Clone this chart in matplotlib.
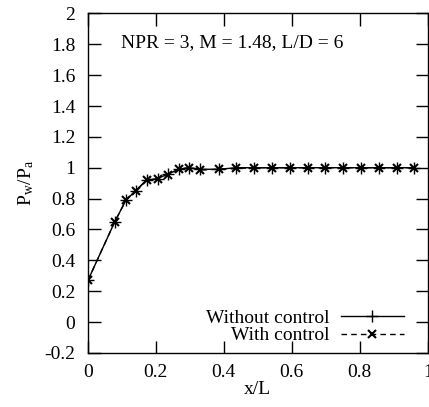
import matplotlib
matplotlib.use("Agg")
import matplotlib.pyplot as plt
from matplotlib.ticker import FuncFormatter

plt.rcParams['font.family'] = ['Liberation Serif', 'DejaVu Serif']
plt.rcParams['mathtext.fontset'] = 'stix'

x_without = [0.0, 0.079, 0.112, 0.140, 0.173, 0.205, 0.237, 0.267, 0.298, 0.331,
             0.385, 0.437, 0.489, 0.542, 0.596, 0.648, 0.699, 0.750, 0.804, 0.856,
             0.909, 0.961]
p_without = [0.27, 0.65, 0.79, 0.85, 0.92, 0.93, 0.96, 0.99, 1.00, 0.99,
             0.99, 1.00, 1.00, 1.00, 1.00, 1.00, 1.00, 1.00, 1.00, 1.00,
             1.00, 1.00]
x_with = x_without
p_with = [0.27, 0.65, 0.79, 0.85, 0.92, 0.93, 0.955, 0.99, 1.00, 0.985,
          0.99, 0.995, 1.00, 1.00, 1.00, 1.00, 1.00, 1.00, 1.00, 1.00,
          1.00, 1.00]

fig = plt.figure(figsize=(4.29, 4.07), dpi=100)
ax = fig.add_axes([0.205, 0.133, 0.792, 0.834])

ax.plot(x_without, p_without, color='black', lw=1.0, marker='+', ms=9, mew=1.0,
        label='Without control')
ax.plot(x_with, p_with, color='black', lw=1.0, ls='--', dashes=(4, 3), marker='x',
        ms=6, mew=1.5, label='With control')

ax.set_xlim(0, 1)
ax.set_ylim(-0.2, 2)
ax.set_xticks([0, 0.2, 0.4, 0.6, 0.8, 1.0])
ax.set_yticks([-0.2, 0, 0.2, 0.4, 0.6, 0.8, 1.0, 1.2, 1.4, 1.6, 1.8, 2.0])
fmt = FuncFormatter(lambda v, p: '%g' % round(v, 2))
ax.xaxis.set_major_formatter(fmt)
ax.yaxis.set_major_formatter(fmt)
ax.tick_params(direction='in', length=9, width=1.0, top=True, right=True,
               labelsize=14)
ax.tick_params(axis='y', pad=9)
ax.tick_params(axis='x', pad=8)
for s in ax.spines.values():
    s.set_linewidth(1.0)

ax.set_xlabel('x/L', fontsize=14, labelpad=0)
ax.set_ylabel(r'P$_\mathregular{w}$/P$_\mathregular{a}$', fontsize=14, labelpad=6)

ax.text(0.098, 1.81, 'NPR = 3, M = 1.48, L/D = 6', fontsize=14, va='center')

ax.legend(loc='lower right', bbox_to_anchor=(0.929, 0.025), frameon=False,
          markerfirst=False, fontsize=14, handlelength=3.2, handletextpad=0.6,
          labelspacing=0.0, borderaxespad=0, borderpad=0)

fig.savefig('out.png', dpi=100)
